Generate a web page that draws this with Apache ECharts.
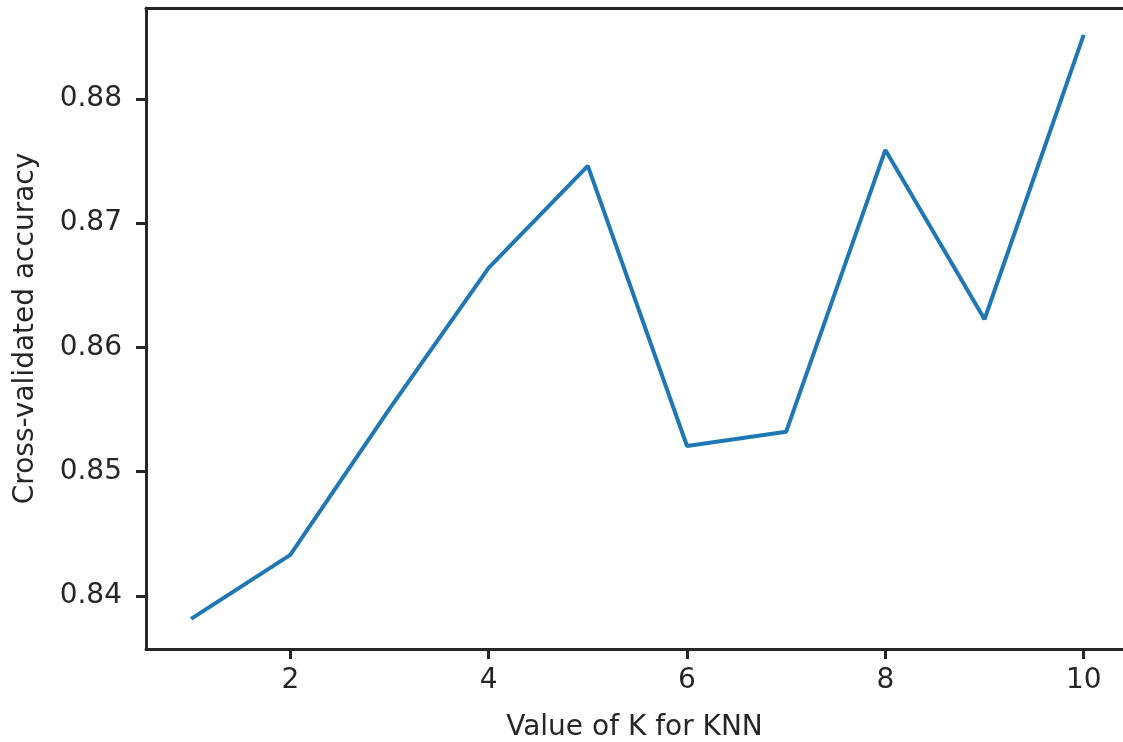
<!DOCTYPE html>
<html>
<head>
<meta charset="utf-8">
<script src="https://cdn.jsdelivr.net/npm/echarts@6/dist/echarts.min.js"></script>
<style>html,body{margin:0;padding:0;background:#fff;}#c{width:1123px;height:742px;}</style>
</head>
<body>
<div id="c"></div>
<script>
const kValues = [1, 2, 3, 4, 5, 6, 7, 8, 9, 10];
const accuracy = [0.83815, 0.8433, 0.85505, 0.8664, 0.87461, 0.85207, 0.85322, 0.8759, 0.86227, 0.88515];
const xTicks = [2, 4, 6, 8, 10];
const yTicks = [0.84, 0.85, 0.86, 0.87, 0.88];
const xTitle = 'Value of K for KNN';
const yTitle = 'Cross-validated accuracy';

const chart = echarts.init(document.getElementById('c'), null, {renderer: 'canvas'});
const font = 'DejaVu Sans';
const ink = '#262626';
const xMin = 0.545, xMax = 10.396;
chart.setOption({
  animation: false,
  backgroundColor: '#fff',
  grid: {left: 146, top: 8, right: 0, bottom: 93, show: false, containLabel: false, outerBoundsMode: 'none'},
  xAxis: [{
    type: 'value', min: xMin, max: xMax,
    name: xTitle, nameLocation: 'middle', nameGap: 65,
    nameTextStyle: {fontFamily: font, fontSize: 28, color: ink},
    axisLine: {show: true, lineStyle: {color: ink, width: 3}},
    axisTick: {show: true, length: 10, lineStyle: {color: ink, width: 3}, customValues: xTicks},
    axisLabel: {fontFamily: font, fontSize: 28, color: ink, margin: 18, customValues: xTicks, formatter: v => String(v)},
    splitLine: {show: false}
  }, {
    type: 'value', min: xMin, max: xMax, position: 'top',
    axisLine: {show: true, onZero: false, lineStyle: {color: ink, width: 3}},
    axisTick: {show: false}, axisLabel: {show: false}, splitLine: {show: false}
  }],
  yAxis: {
    type: 'value', min: 0.83573, max: 0.88732,
    name: yTitle, nameLocation: 'middle', nameGap: 106, nameRotate: 90,
    nameTextStyle: {fontFamily: font, fontSize: 28, color: ink},
    axisLine: {show: true, lineStyle: {color: ink, width: 3}},
    axisTick: {show: true, length: 10, lineStyle: {color: ink, width: 3}, customValues: yTicks},
    axisLabel: {fontFamily: font, fontSize: 28, color: ink, margin: 24, customValues: yTicks, formatter: v => v.toFixed(2)},
    splitLine: {show: false}
  },
  series: [{
    type: 'line',
    xAxisIndex: 0,
    data: kValues.map((k, i) => [k, accuracy[i]]),
    showSymbol: false,
    lineStyle: {color: '#1f77b4', width: 4},
    itemStyle: {color: '#1f77b4'}
  }]
});
</script>
</body>
</html>
